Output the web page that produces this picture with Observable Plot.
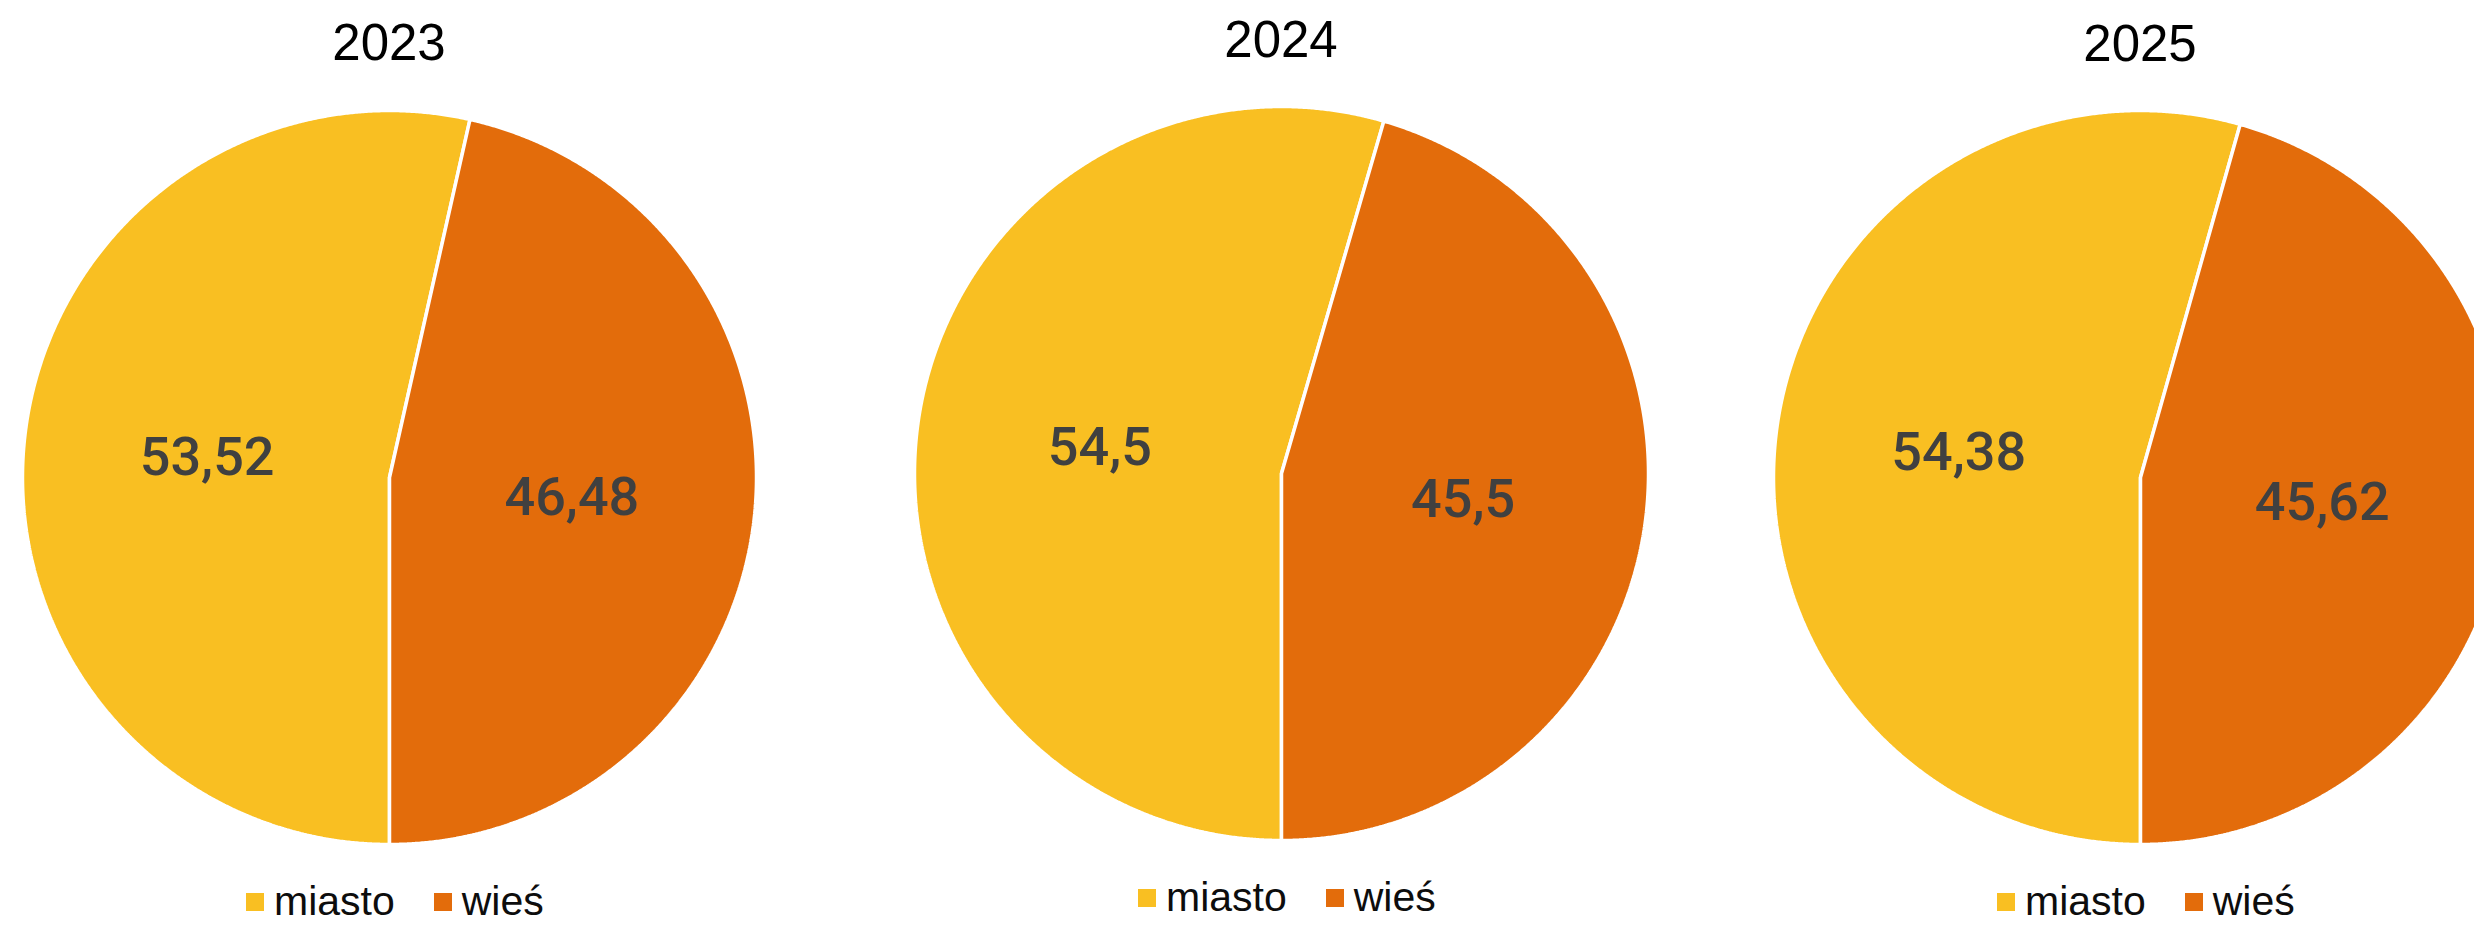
<!DOCTYPE html>
<html>
<head>
<meta charset="utf-8">
<script src="https://cdn.jsdelivr.net/npm/d3@7"></script>
<script src="https://cdn.jsdelivr.net/npm/@observablehq/plot@0.6"></script>
<style>
  html, body { margin: 0; padding: 0; background: #ffffff; overflow: hidden; }
  #root { position: relative; width: 2474px; height: 925px; overflow: hidden; background: #ffffff; }
  .panel { position: absolute; }
  .title {
    position: absolute; transform: translateX(-50%); white-space: nowrap;
    font-family: "Liberation Sans", Arial, sans-serif; font-size: 51px; line-height: 1; color: #000000;
  }
  .legend {
    position: absolute; white-space: nowrap;
    font-family: "Liberation Sans", Arial, sans-serif; font-size: 41px; line-height: 1; color: #0d0d0d;
  }
  .legend .sw { display: inline-block; width: 18px; height: 18px; margin-bottom: 4px; vertical-align: baseline; }
  .legend .lab { vertical-align: baseline; }
</style>
</head>
<body>
<div id="root"></div>
<script>
// ---- data ----
const years = ["2023", "2024", "2025"];
const categories = ["miasto", "wieś"];
const miasto = [53.52, 54.5, 54.38];
const wies = [46.48, 45.5, 45.62];
const colors = ["#F9BF22", "#E36C0B"];

// ---- layout ----
const centerX = [389, 1281, 2140];
const centerY = [477, 473, 477];
const titleBaseline = [60, 57, 61];
const legendBaseline = [916, 912, 916];
const R = 367;
const pad = 6;
const S = 2 * (R + pad);

const root = document.getElementById("root");
const fmt = v => String(v).replace(".", ",");

years.forEach((year, i) => {
  const values = [miasto[i], wies[i]];
  const arcs = d3.pie().sort(null).startAngle(Math.PI).endAngle(3 * Math.PI)(values);

  // slice outlines derived from the pie angles
  const slicePts = [];
  const labelRows = [];
  arcs.forEach((a, k) => {
    const key = categories[k];
    slicePts.push({x: 0, y: 0, cat: key});
    const n = Math.max(2, Math.ceil((a.endAngle - a.startAngle) / (Math.PI / 720)));
    for (let j = 0; j <= n; j++) {
      const t = a.startAngle + (a.endAngle - a.startAngle) * j / n;
      slicePts.push({x: Math.sin(t), y: Math.cos(t), cat: key});
    }
    const mid = (a.startAngle + a.endAngle) / 2;
    labelRows.push({x: 0.5 * Math.sin(mid), y: 0.5 * Math.cos(mid), text: fmt(values[k])});
  });

  const chart = Plot.plot({
    width: S, height: S,
    margin: pad,
    x: {domain: [-1, 1], axis: null},
    y: {domain: [-1, 1], axis: null},
    color: {domain: categories, range: colors},
    style: {background: "transparent", overflow: "visible"},
    marks: [
      Plot.line(slicePts, {
        x: "x", y: "y", z: "cat", fill: "cat",
        stroke: "#ffffff", strokeWidth: 3.5, strokeLinejoin: "miter",
        curve: "linear-closed"
      }),
      Plot.text(labelRows, {
        x: "x", y: "y", text: "text",
        fill: "#404040", fontSize: 54, fontWeight: 500,
        fontFamily: "Roboto, Lato, 'Noto Sans', sans-serif"
      })
    ]
  });
  chart.classList.add("panel");
  chart.style.left = (centerX[i] - R - pad) + "px";
  chart.style.top = (centerY[i] - R - pad) + "px";
  root.appendChild(chart);

  const title = document.createElement("div");
  title.className = "title";
  title.textContent = year;
  title.style.left = centerX[i] + "px";
  title.style.top = (titleBaseline[i] - 43) + "px";
  root.appendChild(title);

  const legend = document.createElement("div");
  legend.className = "legend";
  legend.style.left = (centerX[i] - 143) + "px";
  legend.style.top = (legendBaseline[i] - 35) + "px";
  categories.forEach((c, k) => {
    const sw = document.createElement("span");
    sw.className = "sw";
    sw.style.background = colors[k];
    sw.style.marginRight = "10px";
    const lab = document.createElement("span");
    lab.className = "lab";
    lab.textContent = c;
    if (k === 0) lab.style.marginRight = "39px";
    legend.appendChild(sw);
    legend.appendChild(lab);
  });
  root.appendChild(legend);
});
</script>
</body>
</html>
